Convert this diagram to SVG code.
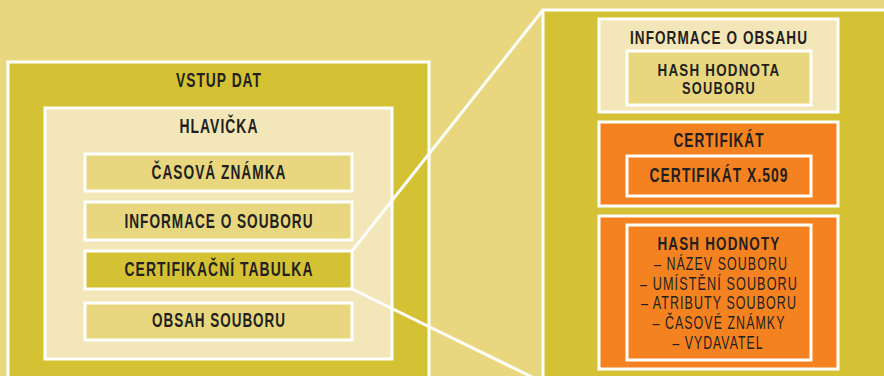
<svg xmlns="http://www.w3.org/2000/svg" width="884" height="376" viewBox="0 0 884 376">
<style>
.bg{fill:#e8d77f}
.olive{fill:#d4c234;stroke:#fff;stroke-width:3}
.pale{fill:#f3e6b8;stroke:#fff;stroke-width:3}
.sand{fill:#e8d77f;stroke:#fff;stroke-width:3}
.orange{fill:#f58220;stroke:#fff;stroke-width:3}
.t{font-family:"Liberation Sans","DejaVu Sans",sans-serif;font-weight:bold;font-size:20.5px;letter-spacing:1.5px;fill:#231f20;text-anchor:middle}
.m{font-size:16px}
.s{font-size:19px}
.l{font-weight:normal;font-size:17.5px}
.conn{stroke:#fff;stroke-width:3;fill:none}
</style>
<rect class="bg" x="0" y="0" width="884" height="376"/>
<g id="vstup-dat">
<rect class="olive" x="8" y="62" width="421" height="330"/>
<text class="t" x="219" y="87" textLength="86" lengthAdjust="spacingAndGlyphs">VSTUP DAT</text>
</g>
<g id="hlavicka">
<rect class="pale" x="45" y="108" width="347" height="251"/>
<text class="t" x="219" y="133" textLength="79" lengthAdjust="spacingAndGlyphs">HLAVIČKA</text>
</g>
<g id="casova-znamka">
<rect class="sand" x="85" y="154" width="267" height="37"/>
<text class="t" x="219" y="179" textLength="135" lengthAdjust="spacingAndGlyphs">ČASOVÁ ZNÁMKA</text>
</g>
<g id="informace-o-souboru">
<rect class="sand" x="85" y="202" width="267" height="38"/>
<text class="t" x="219" y="228" textLength="189" lengthAdjust="spacingAndGlyphs">INFORMACE O SOUBORU</text>
</g>
<g id="certifikacni-tabulka">
<rect class="olive" x="85" y="251" width="267" height="38"/>
<text class="t" x="219" y="276" textLength="189" lengthAdjust="spacingAndGlyphs">CERTIFIKAČNÍ TABULKA</text>
</g>
<g id="obsah-souboru">
<rect class="sand" x="85" y="303" width="267" height="37"/>
<text class="t" x="219" y="327" textLength="134" lengthAdjust="spacingAndGlyphs">OBSAH SOUBORU</text>
</g>
<g id="connectors">
<line class="conn" x1="352" y1="251" x2="543" y2="10"/>
<line class="conn" x1="352" y1="289" x2="532" y2="377"/>
</g>
<g id="certifikacni-tabulka-detail">
<rect class="olive" x="543" y="10" width="360" height="380"/>
</g>
<g id="informace-o-obsahu">
<rect class="pale" x="599" y="19" width="239" height="93"/>
<text class="t s" x="719" y="44" textLength="178" lengthAdjust="spacingAndGlyphs">INFORMACE O OBSAHU</text>
</g>
<g id="hash-hodnota">
<rect class="sand" x="627" y="51" width="184" height="54"/>
<text class="t m" x="719" y="76" textLength="123" lengthAdjust="spacingAndGlyphs">HASH HODNOTA</text>
<text class="t m" x="719" y="94" textLength="74" lengthAdjust="spacingAndGlyphs">SOUBORU</text>
</g>
<g id="certifikat">
<rect class="orange" x="599" y="122" width="239" height="84"/>
<text class="t" x="719" y="147" textLength="91" lengthAdjust="spacingAndGlyphs">CERTIFIKÁT</text>
</g>
<g id="certifikat-x509">
<rect class="orange" x="627" y="156" width="184" height="40"/>
<text class="t" x="719" y="182" textLength="139" lengthAdjust="spacingAndGlyphs">CERTIFIKÁT X.509</text>
</g>
<g id="hash-hodnoty-outer">
<rect class="orange" x="599" y="216" width="239" height="153"/>
</g>
<g id="hash-hodnoty">
<rect class="orange" x="627" y="225" width="184" height="135"/>
<text class="t" style="font-size:17.5px" x="719" y="250" textLength="123" lengthAdjust="spacingAndGlyphs">HASH HODNOTY</text>
<text class="t l" x="721" y="270" textLength="134" lengthAdjust="spacingAndGlyphs">– NÁZEV SOUBORU</text>
<text class="t l" x="719" y="290" textLength="158" lengthAdjust="spacingAndGlyphs">– UMÍSTĚNÍ SOUBORU</text>
<text class="t l" x="719" y="309" textLength="156" lengthAdjust="spacingAndGlyphs">– ATRIBUTY SOUBORU</text>
<text class="t l" x="719" y="329" textLength="133" lengthAdjust="spacingAndGlyphs">– ČASOVÉ ZNÁMKY</text>
<text class="t l" x="718" y="349" textLength="91" lengthAdjust="spacingAndGlyphs">– VYDAVATEL</text>
</g>
</svg>
